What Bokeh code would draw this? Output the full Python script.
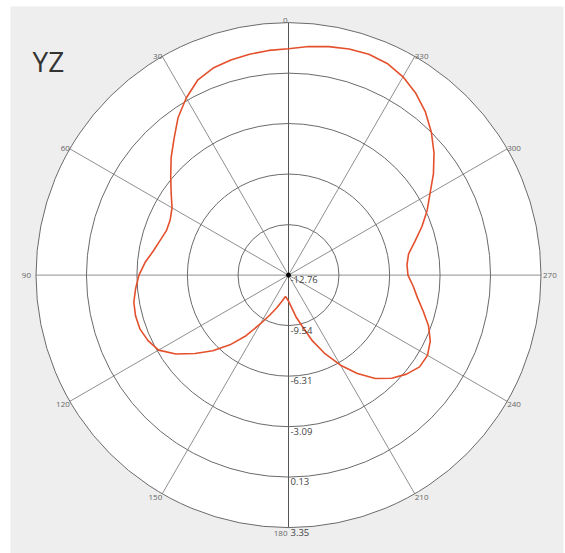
import math
from bokeh.plotting import figure
from bokeh.models import Range1d, ColumnDataSource
from bokeh.core.properties import value
from bokeh.embed import file_html
from bokeh.resources import INLINE

# ---- data ----
title_text = "YZ"
angle_ticks = [0, 30, 60, 90, 120, 150, 180, 210, 240, 270, 300, 330]
angle_tick_labels = ["0", "30", "60", "90", "120", "150", "180", "210", "240", "270", "300", "330"]
ring_values = [-12.76, -9.54, -6.31, -3.09, 0.13, 3.35]
ring_labels = ["-12.76", "-9.54", "-6.31", "-3.09", "0.13", "3.35"]

angles_deg = [0, 5, 10, 15, 20, 25, 30, 35, 40, 45, 50, 55, 60, 65, 70, 75, 80, 85,
              90, 95, 100, 105, 110, 115, 120, 125, 130, 135, 140, 145, 150, 155, 160,
              165, 170, 172, 175, 180, 185, 190, 195, 200, 205, 210, 215, 220, 225,
              230, 235, 240, 245, 250, 255, 260, 265, 270, 275, 280, 285, 290, 295,
              300, 305, 310, 315, 320, 325, 330, 335, 340, 345, 350, 355]
gain_db = [1.68, 1.63, 1.55, 1.45, 1.30, 0.96, 0.29, -0.48, -1.40, -2.17, -2.95, -3.62,
           -4.18, -4.43, -4.47, -4.27, -3.99, -3.57, -3.22, -2.97, -2.74, -2.66, -2.68,
           -2.87, -3.19, -3.99, -4.98, -5.93, -6.95, -8.04, -9.16, -9.95, -10.53,
           -10.97, -11.29, -11.38, -11.29, -11.10, -10.72, -10.08, -9.38, -8.29, -7.21,
           -6.12, -5.10, -4.15, -3.45, -2.93, -2.55, -2.52, -2.78, -3.25, -3.86, -4.40,
           -4.78, -5.14, -5.17, -4.98, -4.40, -3.70, -3.00, -2.33, -1.47, -0.64, 0.13,
           0.83, 1.40, 1.85, 2.14, 2.23, 2.17, 2.04, 1.88]

# ---- geometry ----
W, H = 565, 553
ML, MT, MR, MB = 10, 6, 2, 0
FW, FH = W - ML - MR, H - MT - MB
cx, cy = 278.0, 278.4
R = 252.5
rmin, rmax = ring_values[0], ring_values[-1]


def rad(db):
    return (db - rmin) / (rmax - rmin) * R


def xy(theta, r):
    t = math.radians(theta)
    return cx - r * math.sin(t), cy + r * math.cos(t)


p = figure(width=W, height=H, x_range=Range1d(0, FW), y_range=Range1d(0, FH),
           output_backend="svg", toolbar_location=None,
           x_axis_type=None, y_axis_type=None,
           min_border_left=ML, min_border_top=MT, min_border_right=MR, min_border_bottom=MB)
p.grid.visible = False
p.outline_line_color = None
p.background_fill_color = "#eeeeee"
p.border_fill_color = "white"

# white disk
p.circle(x=[cx], y=[cy], radius=[R], fill_color="white", line_color=None)

# spokes
sx0, sy0, sx1, sy1, scol = [], [], [], [], []
for a in angle_ticks:
    x1, y1 = xy(a, R)
    sx0.append(cx); sy0.append(cy); sx1.append(x1); sy1.append(y1)
    scol.append("#555555" if a % 180 == 0 else "#8f8f8f")
p.segment(x0=sx0, y0=sy0, x1=sx1, y1=sy1, line_color=scol, line_width=1)

# rings
rr = [rad(v) for v in ring_values[1:]]
p.circle(x=[cx] * len(rr), y=[cy] * len(rr), radius=rr, fill_color=None,
         line_color="#6a6a6a", line_width=1)

# center dot
p.scatter(x=[cx], y=[cy], size=4, color="black")

# curve
xs, ys = [], []
for a, d in zip(angles_deg + [angles_deg[0]], gain_db + [gain_db[0]]):
    x, y = xy(a, rad(d))
    xs.append(x); ys.append(y)
p.line(xs, ys, line_color="#e4502c", line_width=1.6)

# angle labels
lx, ly, lt, la, lb, lxo, lyo = [], [], [], [], [], [], []
for a, t in zip(angle_ticks, angle_tick_labels):
    x, y = xy(a, R)
    if a == 0 or a == 180:
        align = "right"
    elif a < 180:
        align = "right"
    else:
        align = "left"
    if a == 90 or a == 270:
        base = "middle"
    elif a < 90 or a > 270:
        base = "alphabetic"
    else:
        base = "top"
    xo = {0: -1, 90: -5, 180: -1, 270: 2}.get(a, 0)
    yo = {0: -2, 180: 3}.get(a, 0 if base != "top" else 1)
    lx.append(x); ly.append(y); lt.append(t); la.append(align); lb.append(base)
    lxo.append(xo); lyo.append(yo)
src = ColumnDataSource(dict(x=lx, y=ly, text=lt, align=la, base=lb, xo=lxo, yo=lyo))
p.text(x="x", y="y", text="text", text_align="align", text_baseline="base",
       x_offset="xo", y_offset="yo", source=src, text_font=value("Open Sans"),
       text_font_size="8px", text_color="#666666")

# radial labels
rx = [cx] * len(ring_values)
ry = [cy - rad(v) for v in ring_values]
p.text(x=rx, y=ry, text=ring_labels, text_align="left", text_baseline="top",
       x_offset=2, y_offset=1, text_font=value("Open Sans"), text_font_size="9.5px",
       text_color="#444444")

# title
p.text(x=[22], y=[493], text=[title_text], text_align="left", text_baseline="alphabetic",
       text_font=value("Open Sans"), text_font_size="28px", text_color="#333333")

open("out.html", "w").write(file_html(p, INLINE))
